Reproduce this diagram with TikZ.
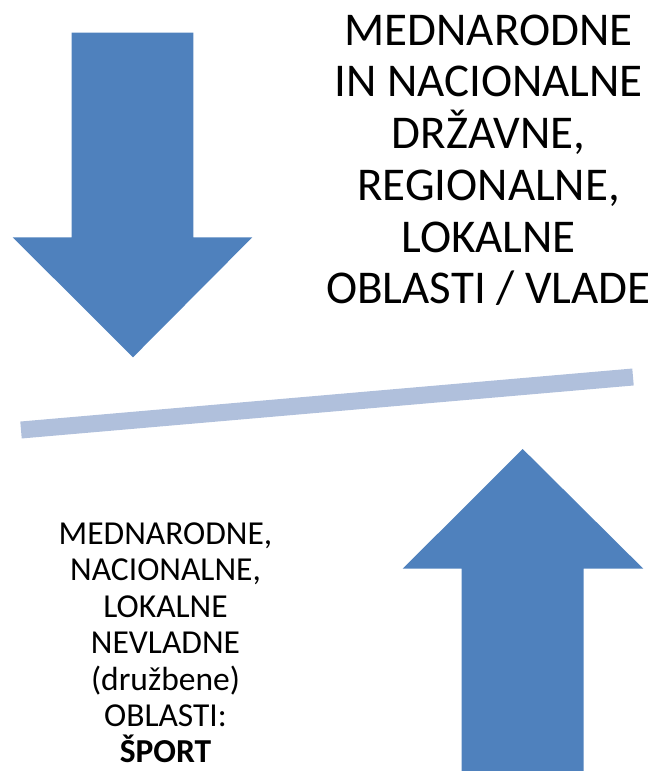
\documentclass[tikz,border=0pt]{standalone}
\usepackage{fontspec}
\setmainfont{Carlito}
\definecolor{arrowblue}{RGB}{79,129,189}
\definecolor{barblue}{RGB}{176,192,220}
\tikzset{
  blockarrow/.style={fill=arrowblue, draw=none},
  balancebar/.style={draw=barblue, line width=17pt, line cap=butt},
  bigtext/.style={align=center, inner sep=0pt, anchor=north, font=\fontsize{47}{51.7}\selectfont},
  smalltext/.style={align=center, inner sep=0pt, anchor=north, font=\fontsize{33.5}{36.4}\selectfont},
}
\begin{document}
\begin{tikzpicture}[x=1pt,y=-1pt]
\useasboundingbox (0,0) rectangle (656,771);
% down arrow
\path[blockarrow] (71.7,32.7) -- (193.3,32.7) -- (193.3,237.3) -- (252.3,237.3)
  -- (133,357.3) -- (12.7,237.3) -- (71.7,237.3) -- cycle;
% up arrow
\path[blockarrow] (522.7,449) -- (643.3,568.7) -- (583.7,568.7) -- (583.7,771)
  -- (461.7,771) -- (461.7,568.7) -- (402.7,568.7) -- cycle;
% bar
\coordinate (barL) at (21,430);
\coordinate (barR) at (633,377);
\draw[balancebar] (barL) -- (barR);
% texts
\node[bigtext] (gov) at (488.5,14.5) {MEDNARODNE\\IN NACIONALNE\\DRŽAVNE,\\REGIONALNE,\\LOKALNE\\OBLASTI / VLADE};
\node[smalltext] (ngo) at (165.5,522.5) {MEDNARODNE,\\NACIONALNE,\\LOKALNE\\NEVLADNE\\(družbene)\\OBLASTI:\\\textbf{ŠPORT}};
\end{tikzpicture}
\end{document}
